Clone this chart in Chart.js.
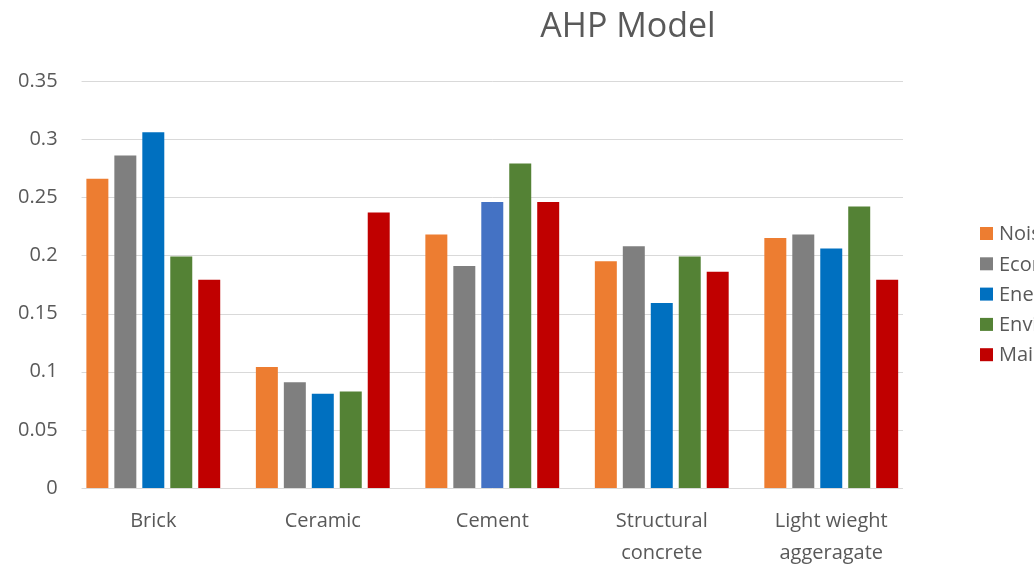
<!DOCTYPE html>
<html>
<head>
<meta charset="utf-8">
<title>AHP Model</title>
<script src="https://cdn.jsdelivr.net/npm/chart.js@4/dist/chart.umd.min.js"></script>
<style>
  html, body { margin: 0; padding: 0; background: #ffffff; overflow: hidden; }
  #wrap { width: 1249px; height: 567px; }
</style>
</head>
<body>
<div id="wrap"><canvas id="chart" width="1249" height="567"></canvas></div>
<script>
// Building materials compared across the five weighted criteria
const chartTitle = 'AHP Model';
const categories = ['Brick', 'Ceramic', 'Cement', ['Structural', 'concrete'], ['Light wieght', 'aggeragate']];
const seriesNames = ['Noise', 'Economic', 'Energy', 'Environmental', 'Maintenance'];

const noiseValues         = [0.266, 0.104, 0.218, 0.195, 0.215];
const economicValues      = [0.286, 0.091, 0.191, 0.208, 0.218];
const energyValues        = [0.306, 0.081, 0.246, 0.159, 0.206];
const environmentalValues = [0.199, 0.083, 0.279, 0.199, 0.242];
const maintenanceValues   = [0.179, 0.237, 0.246, 0.186, 0.179];

const yTickLabels = ['0', '0.05', '0.1', '0.15', '0.2', '0.25', '0.3', '0.35'];

// Styling
const seriesColors = ['#ED7D31', '#7F7F7F', '#0070C0', '#548235', '#C00000'];
const energyColors = ['#0070C0', '#0070C0', '#4472C4', '#0070C0', '#0070C0'];
const textColor = '#595959';
const gridColor = '#D9D9D9';
const fontFamily = "'Open Sans', 'Noto Sans', sans-serif";

Chart.defaults.font.family = fontFamily;
Chart.defaults.color = textColor;

const seriesValues = [noiseValues, economicValues, energyValues, environmentalValues, maintenanceValues];

const datasets = seriesNames.map((name, i) => ({
  label: name,
  data: seriesValues[i],
  backgroundColor: i === 2 ? energyColors : seriesColors[i],
  borderWidth: 0,
  categoryPercentage: 0.825,
  barPercentage: 0.786
}));

// Horizontal value gridlines, inset slightly from the plot edges
const insetGrid = {
  id: 'insetGrid',
  beforeDatasetsDraw(chart, args, opts) {
    const { ctx, chartArea } = chart;
    const y = chart.scales.y;
    ctx.save();
    ctx.strokeStyle = opts.color;
    ctx.lineWidth = opts.lineWidth;
    y.ticks.forEach(t => {
      const py = Math.round(y.getPixelForValue(t.value)) + 0.5;
      ctx.beginPath();
      ctx.moveTo(chartArea.left + opts.inset, py);
      ctx.lineTo(chartArea.right - opts.inset, py);
      ctx.stroke();
    });
    ctx.restore();
  }
};

// Legend column drawn to the right of the plot
const sideLegend = {
  id: 'sideLegend',
  afterDraw(chart, args, opts) {
    const { ctx, chartArea } = chart;
    ctx.save();
    ctx.font = opts.fontSize + 'px ' + fontFamily;
    ctx.textBaseline = 'middle';
    ctx.textAlign = 'left';
    const x0 = chartArea.right + opts.offsetX;
    chart.data.datasets.forEach((ds, i) => {
      const top = opts.top + i * opts.rowHeight;
      ctx.fillStyle = seriesColors[i];
      ctx.fillRect(x0, top, opts.box, opts.box);
      ctx.fillStyle = textColor;
      ctx.fillText(ds.label, x0 + opts.box + opts.gap, top + opts.box / 2 + 1);
    });
    ctx.restore();
  }
};

new Chart(document.getElementById('chart'), {
  type: 'bar',
  data: { labels: categories, datasets },
  plugins: [insetGrid, sideLegend],
  options: {
    responsive: false,
    animation: false,
    layout: { padding: { left: 7, right: 0, top: 0, bottom: 0 } },
    plugins: {
      legend: { display: false },
      tooltip: { enabled: false },
      title: {
        display: true,
        text: chartTitle,
        color: textColor,
        font: { size: 34, weight: 'normal', family: fontFamily },
        padding: { top: 7, bottom: 33.2 }
      },
      insetGrid: { color: gridColor, lineWidth: 1, inset: 13 },
      sideLegend: { offsetX: 64, top: 227, rowHeight: 30.3, box: 13, gap: 6, fontSize: 20 }
    },
    scales: {
      x: {
        grid: { display: false, drawTicks: false },
        border: { display: false },
        ticks: {
          color: textColor,
          font: { size: 20, lineHeight: 1.6 },
          padding: 17,
          maxRotation: 0,
          autoSkip: false
        },
        afterFit(scale) { scale.height = 79; }
      },
      y: {
        min: 0,
        max: 0.35,
        grid: { display: false, drawTicks: false },
        border: { display: false },
        ticks: {
          stepSize: 0.05,
          color: textColor,
          font: { size: 20 },
          padding: 11,
          callback: (value, index) => yTickLabels[index]
        }
      },
      legendSpace: {
        type: 'linear',
        position: 'right',
        display: true,
        grid: { display: false, drawTicks: false },
        border: { display: false },
        ticks: { display: false },
        afterFit(scale) { scale.width = 333; }
      }
    }
  }
});
</script>
</body>
</html>
